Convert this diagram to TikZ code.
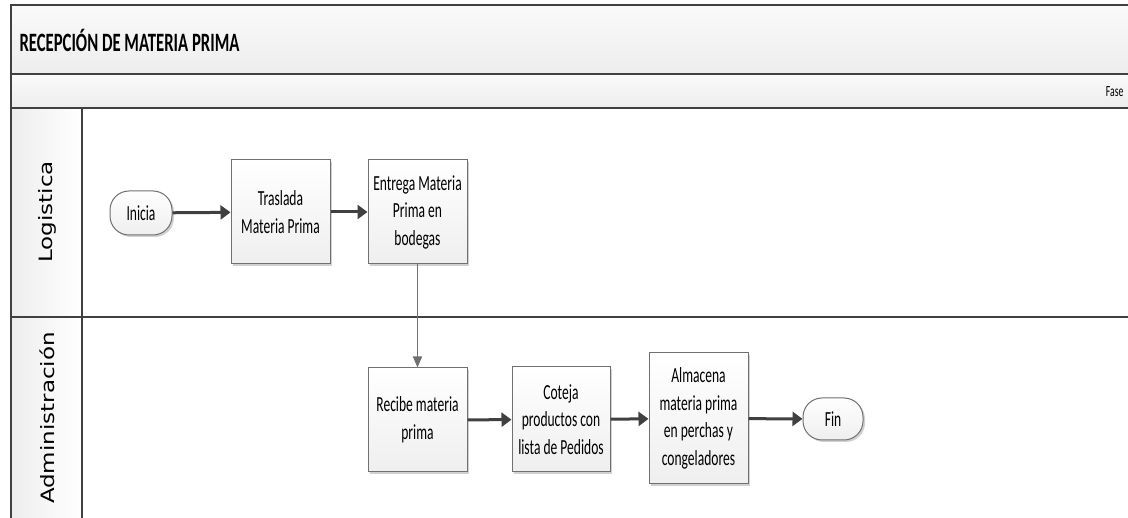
\documentclass[tikz,border=0pt]{standalone}
\usepackage{fontspec}
\setmainfont{Carlito}[FakeStretch=0.63]
\newfontfamily\lanefont{DejaVu Sans}
\usetikzlibrary{arrows.meta,shadows}

\definecolor{frameline}{HTML}{404040}
\definecolor{boxline}{HTML}{707070}
\definecolor{flowline}{HTML}{404040}
\definecolor{bandtop}{HTML}{FAFAFA}
\definecolor{bandbot}{HTML}{EDEDED}

\begin{document}
\begin{tikzpicture}[x=1pt,y=-1pt,
  band/.style={draw=frameline, line width=1.8pt, top color=bandtop, bottom color=bandbot},
  lanehead/.style={draw=frameline, line width=1.5pt, left color=bandbot, right color=white},
  lanebody/.style={draw=frameline, line width=1.8pt, fill=white},
  stepbox/.style={draw=boxline, line width=1pt, top color=white, bottom color=gray!13,
    inner sep=0pt, align=center, font=\fontsize{21.5}{27.5}\selectfont,
    drop shadow={shadow xshift=2pt, shadow yshift=-2pt, fill=black, opacity=0.18}},
  term/.style={stepbox, rounded corners=19pt},
  flow/.style={draw=flowline, line width=3pt, -{Triangle[length=10pt,width=14pt]}},
  drop/.style={draw=boxline, line width=1.6pt, -{Triangle[length=11pt,width=9pt]}},
  lanetext/.style={rotate=90, font=\lanefont\fontsize{23}{23}\selectfont},
]
\useasboundingbox (0,0) rectangle (1128,518);
\clip (0,0) rectangle (1128,518);

% pool frame: title band, phase band and the two lanes
\path[band] (11,5) rectangle (1145,74);
\path[band] (11,74) rectangle (1145,108);
\path[lanebody] (82,108) rectangle (1145,317);
\path[lanebody] (82,317) rectangle (1145,540);
\path[lanehead] (11,108) rectangle (82,317);
\path[lanehead] (11,317) rectangle (82,540);

\node[anchor=base west, font=\bfseries\fontsize{26.5}{30}\selectfont] (title) at (16,52) {RECEPCIÓN DE MATERIA PRIMA};
\node[anchor=base east, font=\fontsize{15.5}{18}\selectfont] (fase) at (1127,97) {Fase};

\node[lanetext] (lane1) at (47,212) {\scalebox{1}[0.8]{Logistica}};
\node[lanetext] (lane2) at (47,418) {\scalebox{1}[0.8]{Administración}};

% process steps
\node[term, minimum width=62pt, minimum height=44pt] (ini) at (141,213) {Inicia};
\node[stepbox, minimum width=99pt, minimum height=104pt] (tras) at (280.5,212) {Traslada\\Materia Prima};
\node[stepbox, minimum width=99pt, minimum height=104pt] (entr) at (417.5,212) {Entrega Materia\\Prima en\\bodegas};
\node[stepbox, minimum width=99pt, minimum height=104pt] (rec) at (417.5,420) {Recibe materia\\prima};
\node[stepbox, minimum width=98pt, minimum height=105pt] (cot) at (561,419.5) {Coteja\\productos con\\lista de Pedidos};
\node[stepbox, minimum width=99pt, minimum height=131pt] (alm) at (698.5,418.5) {Almacena\\materia prima\\en perchas y\\congeladores};
\node[term, minimum width=60pt, minimum height=42pt] (fin) at (833,419) {Fin};

% flow
\draw[flow] (ini) -- (tras);
\draw[flow] (tras) -- (entr);
\draw[drop] (entr) -- (rec);
\draw[flow] (rec) -- (cot);
\draw[flow] (cot) -- (alm);
\draw[flow] (alm) -- (fin);
\end{tikzpicture}
\end{document}
